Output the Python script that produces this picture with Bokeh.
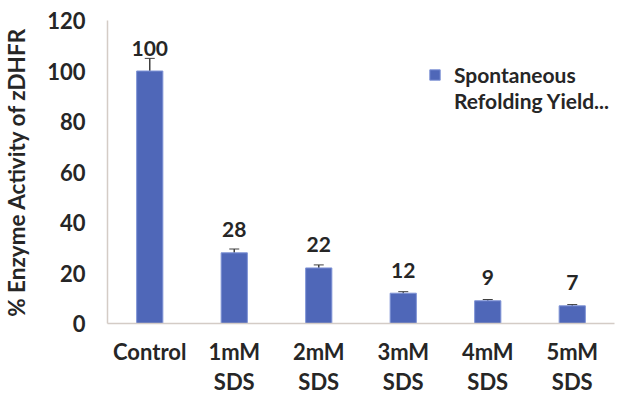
from bokeh.plotting import figure
from bokeh.models import (ColumnDataSource, FixedTicker, Range1d, Whisker, Legend,
                          LegendItem, LinearAxis)
from bokeh.core.properties import value
from bokeh.embed import file_html
from bokeh.resources import INLINE

categories = ["Control", "1mM\nSDS", "2mM\nSDS", "3mM\nSDS", "4mM\nSDS", "5mM\nSDS"]
activity = [100, 28, 22, 12, 9, 7]
errors = [5, 1.5, 1.2, 0.6, 0.5, 0.5]
y_ticks = [0, 20, 40, 60, 80, 100, 120]
legend_lines = ["Spontaneous", "Refolding Yield..."]

xs = list(range(len(categories)))
line1 = [c.split("\n")[0] for c in categories]
line2 = [c.split("\n")[1] if "\n" in c else " " for c in categories]

src = ColumnDataSource(dict(
    x=xs, top=activity,
    upper=[a + e for a, e in zip(activity, errors)],
    lower=[a - e for a, e in zip(activity, errors)],
    lbl=[str(a) for a in activity],
))

FONT = "Lato"
p = figure(width=618, height=398, output_backend="svg", toolbar_location=None,
           x_range=Range1d(-0.5, len(categories) - 0.5), y_range=Range1d(0, 120),
           min_border_left=104, min_border_right=4, min_border_top=20, min_border_bottom=75)
p.outline_line_color = None
p.background_fill_color = "white"
p.border_fill_color = "white"
p.xgrid.visible = False
p.ygrid.visible = False

r = p.vbar(x="x", top="top", width=0.31, source=src, fill_color="#4F67B8",
           line_color="#7F93D6", line_width=1)
w = Whisker(base="x", upper="upper", lower="lower", source=src,
            line_color="#404040", line_width=1.5)
w.upper_head.size = 10
w.lower_head.size = 10
w.upper_head.line_color = "#404040"
w.lower_head.line_color = "#404040"
p.add_layout(w)

p.text(x="x", y="top", text="lbl", source=src, text_align="center",
       text_baseline="alphabetic", y_offset=-23, text_font=value(FONT),
       text_font_style="bold", text_font_size="21px", text_color="#262626")


def style_axis(ax, size):
    ax.major_tick_line_color = None
    ax.minor_tick_line_color = None
    ax.major_tick_out = 0
    ax.major_tick_in = 0
    ax.minor_tick_out = 0
    ax.minor_tick_in = 0
    ax.axis_line_color = "#d4ccc6"
    ax.axis_line_width = 1.5
    ax.major_label_text_font = FONT
    ax.major_label_text_font_style = "bold"
    ax.major_label_text_color = "#262626"
    ax.major_label_text_font_size = size


xa = p.xaxis[0]
ya = p.yaxis[0]
style_axis(xa, "22px")
style_axis(ya, "22px")
xa.ticker = FixedTicker(ticks=xs)
xa.major_label_overrides = {i: c for i, c in enumerate(line1)}
xa.major_label_standoff = 14
xa.axis_label_standoff = 0
ya.ticker = FixedTicker(ticks=y_ticks)
ya.major_label_standoff = 22
ya.axis_label = "% Enzyme Activity of zDHFR"
ya.axis_label_text_font = FONT
ya.axis_label_text_font_style = "bold"
ya.axis_label_text_font_size = "22.5px"
ya.axis_label_text_color = "#262626"
ya.axis_label_standoff = 14

xa2 = LinearAxis(ticker=FixedTicker(ticks=xs),
                 major_label_overrides={i: c for i, c in enumerate(line2)})
style_axis(xa2, "22px")
xa2.axis_line_color = None
xa2.major_label_standoff = 0
xa2.axis_label_standoff = 0
p.add_layout(xa2, "below")

legend = Legend(items=[LegendItem(label=legend_lines[0], renderers=[r]),
                       LegendItem(label=legend_lines[1], renderers=[])],
                location=(321, 210), border_line_color=None, background_fill_alpha=0,
                padding=0, margin=0, spacing=0,
                label_text_font=FONT, label_text_font_style="bold",
                label_text_font_size="21px", label_text_color="#262626",
                label_height=26,
                glyph_width=13, glyph_height=13, label_standoff=13)
p.add_layout(legend)

open("out.html", "w").write(file_html(p, INLINE))
